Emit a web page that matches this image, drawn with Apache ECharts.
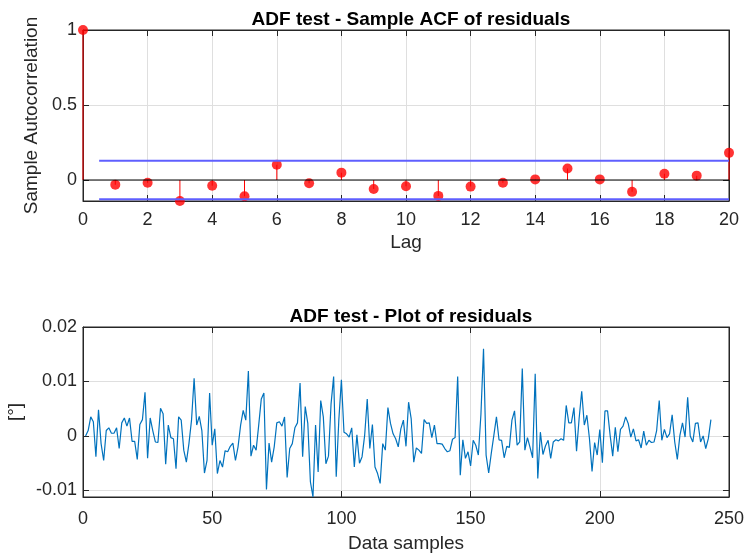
<!DOCTYPE html>
<html>
<head>
<meta charset="UTF-8">
<script src="https://cdn.jsdelivr.net/npm/echarts@6/dist/echarts.min.js"></script>
</head>
<body style="margin:0;background:#ffffff;">
<div id="adfchart" style="width:744px;height:557px;"></div>
<script>
    /* ACF of residuals */
    var lags = [0, 1, 2, 3, 4, 5, 6, 7, 8, 9, 10, 11, 12, 13, 14, 15, 16, 17, 18, 19, 20];
    var acfValues = [1, -0.031, -0.018, -0.140, -0.038, -0.108, 0.102, -0.022, 0.049, -0.060, -0.042,
        -0.106, -0.044, -0.018, 0.004, 0.077, 0.004, -0.079, 0.042, 0.029, 0.181];
    var acfBound = 0.128;
    var acfTicks = [0, 0.5, 1];

    /* residuals, samples 1..243 */
    var residuals = [
        0.0000, 0.0010, 0.0035, 0.0026, -0.0038, 0.0048, -0.0014, -0.0045, 0.0010, 0.0015,
        0.0005, 0.0005, 0.0015, -0.0023, 0.0024, 0.0033, 0.0018, 0.0033, -0.0010, -0.0010,
        -0.0043, 0.0021, 0.0030, 0.0080, -0.0041, 0.0033, 0.0010, -0.0011, -0.0012, 0.0051,
        0.0041, -0.0052, 0.0020, -0.0003, -0.0005, -0.0060, 0.0035, 0.0029, -0.0026, -0.0048,
        -0.0014, 0.0029, 0.0106, 0.0020, 0.0036, 0.0010, -0.0068, -0.0045, 0.0079, -0.0017,
        0.0013, -0.0069, -0.0045, -0.0057, -0.0027, -0.0029, -0.0019, -0.0013, -0.0045, -0.0020,
        0.0020, 0.0047, 0.0029, 0.0119, -0.0037, -0.0017, -0.0026, 0.0020, 0.0068, 0.0079,
        -0.0098, -0.0013, -0.0048, -0.0020, 0.0024, 0.0026, 0.0018, 0.0035, -0.0076, -0.0023,
        -0.0014, 0.0015, 0.0024, 0.0097, -0.0038, 0.0054, 0.0023, -0.0084, -0.0112, 0.0020,
        -0.0066, 0.0065, 0.0035, -0.0051, -0.0037, 0.0059, 0.0109, -0.0075, 0.0029, 0.0103,
        0.0007, 0.0004, -0.0002, 0.0015, -0.0057, 0.0002, -0.0050, -0.0038, 0.0001, 0.0068,
        -0.0023, 0.0021, -0.0057, -0.0069, -0.0087, -0.0014, -0.0026, 0.0052, 0.0023, 0.0004,
        -0.0005, -0.0020, 0.0013, 0.0029, -0.0019, 0.0062, 0.0032, -0.0048, -0.0022, -0.0026,
        -0.0032, 0.0030, 0.0023, 0.0024, -0.0003, 0.0020, -0.0014, -0.0014, -0.0015, -0.0023,
        -0.0029, -0.0027, -0.0006, -0.0003, 0.0109, -0.0072, -0.0007, -0.0041, -0.0029, -0.0055,
        -0.0008, -0.0017, -0.0035, 0.0040, 0.0160, -0.0035, -0.0068, -0.0032, 0.0001, 0.0035,
        -0.0007, -0.0008, -0.0040, -0.0019, -0.0021, 0.0029, 0.0046, -0.0017, -0.0011, 0.0124,
        -0.0026, -0.0003, -0.0021, -0.0040, 0.0114, -0.0078, 0.0007, -0.0034, -0.0018, -0.0008,
        -0.0041, -0.0011, -0.0007, -0.0009, -0.0005, -0.0008, 0.0056, 0.0024, 0.0024, 0.0052,
        -0.0028, 0.0032, 0.0082, 0.0020, 0.0038, -0.0005, -0.0065, -0.0012, -0.0035, 0.0012,
        -0.0049, 0.0046, 0.0046, 0.0001, -0.0037, 0.0016, -0.0029, 0.0012, 0.0018, 0.0035,
        0.0023, -0.0002, 0.0013, -0.0009, -0.0007, -0.0022, 0.0009, -0.0017, -0.0008, -0.0012,
        -0.0011, 0.0010, 0.0065, -0.0008, 0.0012, -0.0003, 0.0004, 0.0039, -0.0011, -0.0043,
        0.0001, 0.0024, -0.0002, 0.0071, 0.0000, -0.0011, 0.0023, 0.0024, -0.0011, 0.0000,
        -0.0023, -0.0005, 0.0030
    ];
    var residTicks = [-0.01, 0, 0.01, 0.02];

    var textColor = '#262626';
    var fontName = '"Liberation Sans", Arial, sans-serif';

    /* MATLAB-like axis */
    function makeAxis(opt) {
        var ax = {
            type: 'value',
            gridIndex: opt.grid,
            position: opt.position,
            min: opt.min,
            max: opt.max,
            name: opt.name || '',
            nameLocation: 'middle',
            nameGap: opt.nameGap || 0,
            nameTextStyle: {color: textColor, fontSize: 19, fontFamily: fontName},
            axisLine: {show: true, onZero: false, lineStyle: {color: textColor, width: 1}},
            axisTick: {show: true, inside: true, length: 6, lineStyle: {color: textColor}},
            axisLabel: {show: !opt.hideLabel, color: textColor, fontSize: 18, fontFamily: fontName,
                margin: opt.margin || 6},
            splitLine: {show: !!opt.split, lineStyle: {color: '#dfdfdf', width: 1}}
        };
        if (opt.interval) {
            ax.interval = opt.interval;
        }
        if (opt.ticks) {
            ax.axisLabel.customValues = opt.ticks;
            ax.axisTick.customValues = opt.ticks;
        }
        return ax;
    }

    var chart = echarts.init(document.getElementById('adfchart'), null, {renderer: 'canvas'});
    var yMinAcf = -0.14;
    var yMinRes = -0.0112;

    var option = {
        backgroundColor: '#ffffff',
        animation: false,
        title: [{
            text: 'ADF test - Sample ACF of residuals',
            left: 406, top: 5, textAlign: 'center',
            textStyle: {fontSize: 19, fontWeight: 'bold', color: '#000', fontFamily: fontName}
        }, {
            text: 'ADF test - Plot of residuals',
            left: 406, top: 302, textAlign: 'center',
            textStyle: {fontSize: 19, fontWeight: 'bold', color: '#000', fontFamily: fontName}
        }],
        grid: [
            {left: 83, top: 30, width: 646, height: 171, outerBoundsMode: 'none', containLabel: false,
                show: true, borderColor: textColor, borderWidth: 1, backgroundColor: '#fff'},
            {left: 83, top: 327, width: 646, height: 170, outerBoundsMode: 'none', containLabel: false,
                show: true, borderColor: textColor, borderWidth: 1, backgroundColor: '#fff'}
        ],
        xAxis: [
            makeAxis({grid: 0, position: 'bottom', min: 0, max: 20, interval: 2, split: true, name: 'Lag', nameGap: 32, margin: 10}),
            makeAxis({grid: 0, position: 'top', min: 0, max: 20, interval: 2, hideLabel: true}),
            makeAxis({grid: 1, position: 'bottom', min: 0, max: 250, interval: 50, split: true, name: 'Data samples', nameGap: 37, margin: 13}),
            makeAxis({grid: 1, position: 'top', min: 0, max: 250, interval: 50, hideLabel: true})
        ],
        yAxis: [
            makeAxis({grid: 0, position: 'left', min: yMinAcf, max: 1, ticks: acfTicks, split: true, name: 'Sample Autocorrelation', nameGap: 33}),
            makeAxis({grid: 0, position: 'right', min: yMinAcf, max: 1, ticks: acfTicks, hideLabel: true}),
            makeAxis({grid: 1, position: 'left', min: yMinRes, max: 0.02, ticks: residTicks, split: true, name: '[°]', nameGap: 47}),
            makeAxis({grid: 1, position: 'right', min: yMinRes, max: 0.02, ticks: residTicks, hideLabel: true})
        ],
        series: [
            {   /* zero line */
                type: 'line', xAxisIndex: 0, yAxisIndex: 0, silent: true, symbol: 'none',
                lineStyle: {color: '#000', width: 1},
                data: [[lags[0], 0], [lags[lags.length - 1], 0]]
            },
            {   /* confidence bounds */
                type: 'line', xAxisIndex: 0, yAxisIndex: 0, silent: true, symbol: 'none',
                lineStyle: {color: '#5f5fff', width: 2},
                data: [[0.5, acfBound], [lags[lags.length - 1], acfBound]]
            },
            {
                type: 'line', xAxisIndex: 0, yAxisIndex: 0, silent: true, symbol: 'none',
                lineStyle: {color: '#5f5fff', width: 2},
                data: [[0.5, -acfBound], [lags[lags.length - 1], -acfBound]]
            },
            {   /* stems */
                type: 'bar', xAxisIndex: 0, yAxisIndex: 0, silent: true,
                barWidth: 1, itemStyle: {color: '#ff0000'},
                data: lags.map(function (l, i) { return [l, acfValues[i]]; })
            },
            {   /* stem heads */
                type: 'scatter', xAxisIndex: 0, yAxisIndex: 0, clip: false,
                symbol: 'circle', symbolSize: 10, itemStyle: {color: '#ff0000'},
                data: lags.map(function (l, i) { return [l, acfValues[i]]; })
            },
            {   /* residuals */
                type: 'line', xAxisIndex: 2, yAxisIndex: 2, symbol: 'none',
                lineStyle: {color: '#0072bd', width: 1.2},
                data: residuals.map(function (v, i) { return [i + 1, v]; })
            }
        ]
    };
    chart.setOption(option);
</script>
</body>
</html>
